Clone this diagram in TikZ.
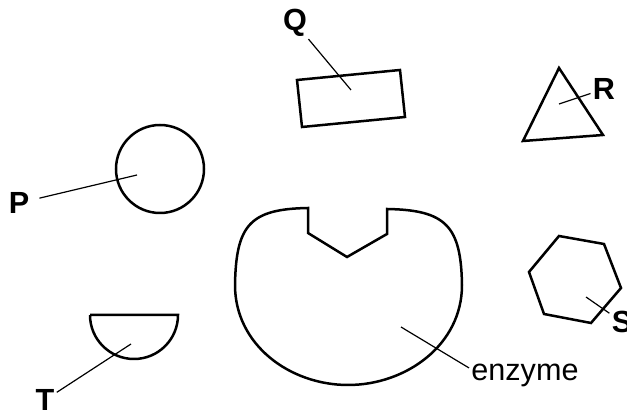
\documentclass[tikz,border=0pt]{standalone}
\usepackage{fontspec}
\setmainfont{Liberation Sans}
\usetikzlibrary{calc,positioning}

\begin{document}
\begin{tikzpicture}[x=0.5pt,y=-0.5pt,
	shape line/.style={line width=1.25pt,line join=miter},
	leader/.style={line width=0.6pt},
	letter/.style={font=\fontsize{15.3}{18}\selectfont\bfseries,inner sep=1pt},
	word/.style={font=\fontsize{15.3}{18}\selectfont,inner sep=1pt}]
\useasboundingbox (0,0) rectangle (627,410);

% circle P
\draw[shape line] (160,169) circle[radius=22pt];
\coordinate (Pin) at (137,175);
\node[letter] (P) at (19,203) {P};
\draw[leader,shorten <=4pt] (P) -- (Pin);

% rectangle Q
\draw[shape line] (297,80) -- (400,70) -- (405,117) -- (302,127) -- cycle;
\coordinate (Qin) at (351,90);
\node[letter] (Q) at (295,23) {Q};
\draw[leader] (Q) -- (Qin);

% triangle R
\draw[shape line] (559,68) -- (603,135) -- (523,141) -- cycle;
\coordinate (Rin) at (559,104);
\node[letter] (R) at (604,89) {R};
\draw[leader] (R) -- (Rin);

% hexagon S
\draw[shape line] (559,236) -- (604,244) -- (621,288) -- (591,323)
	-- (544,314) -- (529,272) -- cycle;
\coordinate (Sin) at (586,297);
\node[letter] (S) at (622,322) {S};
\draw[leader] (S) -- (Sin);

% half circle T
\draw[shape line] (90,315) -- (178,315) arc[start angle=0,end angle=-180,radius=22pt];
\coordinate (Tin) at (131,344);
\node[letter] (T) at (45,400) {T};
\draw[leader] (T) -- (Tin);

% enzyme with its notch
\draw[shape line] (308,208) .. controls (250,209) and (236,225) .. (235,285)
	.. controls (235,345) and (290,385) .. (348,385)
	.. controls (406,385) and (462,345) .. (462,285)
	.. controls (461,226) and (446,210) .. (387,209)
	-- (387,234) -- (347,257) -- (308,233) -- cycle;
\coordinate (Ein) at (401,327);
\node[word,anchor=base west] (enz) at (469,381) {enzyme};
\draw[leader] (Ein) -- ([yshift=4pt]enz.west);
\end{tikzpicture}
\end{document}
